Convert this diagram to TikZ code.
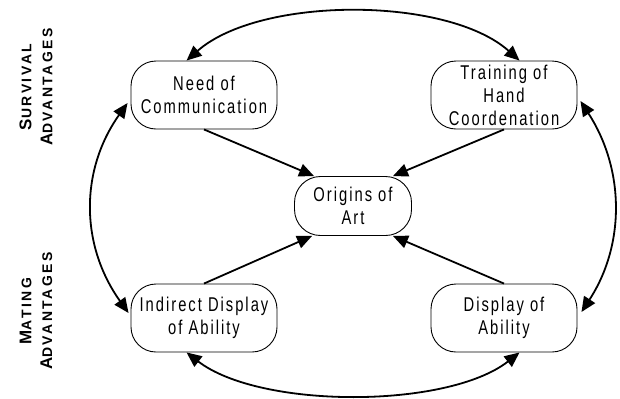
\documentclass[tikz,border=0pt]{standalone}
\usepackage{fontspec}
\setmainfont{Liberation Sans}
\newfontfamily\boxfont{Liberation Sans}[FakeStretch=0.74,LetterSpace=10]
\newfontfamily\labfont{Liberation Sans}[LetterSpace=18]
\usetikzlibrary{arrows.meta,calc}
\newcommand\bigsc[2]{{\fontsize{17}{22}\selectfont #1}{\fontsize{14}{22}\selectfont #2}}
\begin{document}
\begin{tikzpicture}[x=1bp,y=-1bp,
  box/.style={draw, line width=0.9bp, fill=white, rounded corners=25bp,
    minimum width=146bp, minimum height=68bp, inner sep=0pt, align=center,
    font=\boxfont\fontsize{20}{23}\selectfont},
  hd/.tip={Triangle[length=15bp,width=13bp]},
  link/.style={line width=1.8bp, -hd},
  both/.style={line width=1.8bp, hd-hd},
  lab/.style={rotate=90, align=center, inner sep=0pt,
    font=\labfont\bfseries\fontsize{14}{21}\selectfont}]
\useasboundingbox (0,0) rectangle (620,398);

\node[box] (need) at (204,95) {Need of\\Communication};
\node[box] (train) at (504,95) {Training of\\Hand\\Coordenation};
\node[box, minimum width=117bp, minimum height=59bp, rounded corners=26bp] (art) at (353,206) {Origins of\\Art};
\node[box] (ind) at (204,318) {Indirect Display\\of Ability};
\node[box] (disp) at (504,318) {Display of\\Ability};

\node[lab] (surv) at (36,87) {\bigsc{S}{URVIVAL}\\\bigsc{A}{DVANTAGES}};
\node[lab] (mate) at (36,311) {\bigsc{M}{ATING}\\\bigsc{A}{DVANTAGES}};

% straight arrows into the centre
\draw[link] (need.south) -- ($(art.north west)+(20,0)$);
\draw[link] (train.south) -- ($(art.north east)+(-19,0)$);
\draw[link] (ind.north) -- ($(art.south west)+(18,0)$);
\draw[link] (disp.north) -- ($(art.south east)+(-19,0)$);

% outer arcs
\draw[both] ($(need.north west)+(56,0)$) .. controls (260,-4) and (447,-4) .. ($(train.north west)+(89,0)$);
\draw[both] ($(need.west)+(-3,8)$) .. controls (80,170) and (80,245) .. ($(ind.west)+(-2,-5)$);
\draw[both] ($(train.east)+(3,6)$) .. controls (625,170) and (625,245) .. ($(disp.east)+(4,-6)$);
\draw[both] ($(ind.south west)+(56,0)$) .. controls (260,409) and (447,409) .. ($(disp.south west)+(89,0)$);
\end{tikzpicture}
\end{document}
